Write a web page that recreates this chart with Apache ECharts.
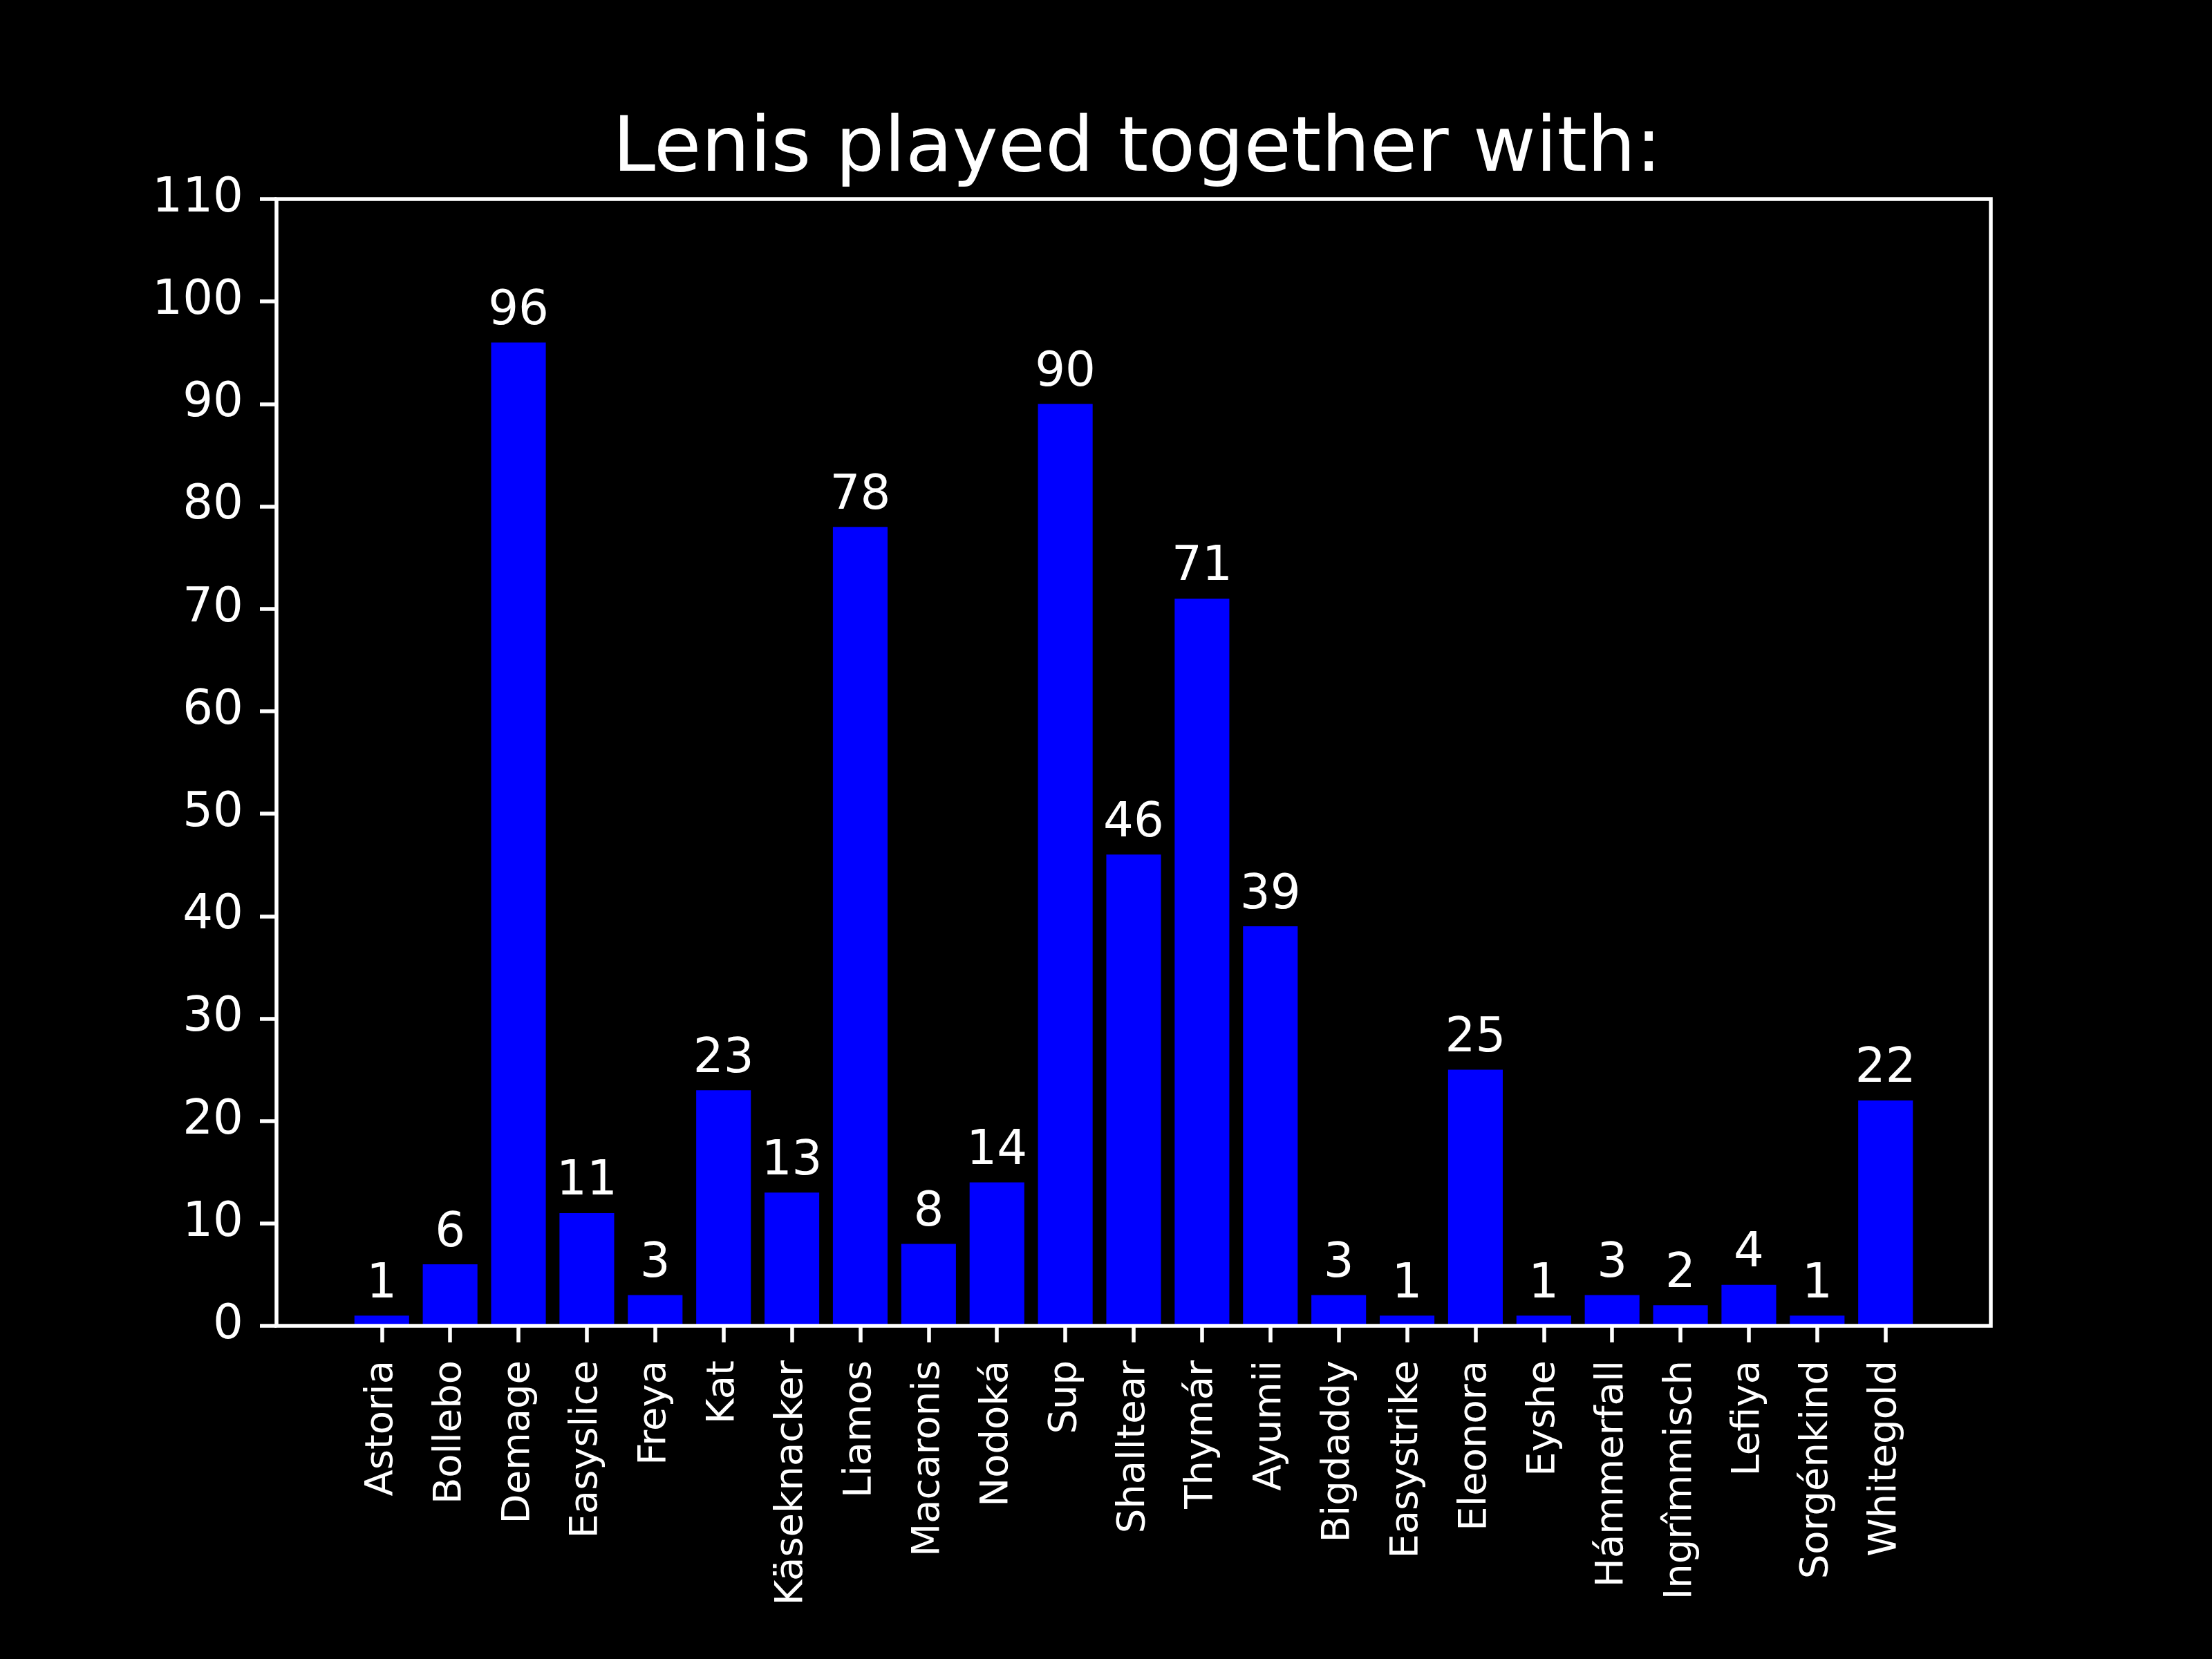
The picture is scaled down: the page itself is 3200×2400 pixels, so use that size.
<!DOCTYPE html>
<html>
<head>
<meta charset="utf-8">
<script src="https://cdn.jsdelivr.net/npm/echarts@6/dist/echarts.min.js"></script>
<style>
html,body{margin:0;padding:0;background:#000;}
#c{width:3200px;height:2400px;}
</style>
</head>
<body>
<div id="c"></div>
<script>
const categories = ["Astoria","Bollebo","Demage","Easyslice","Freya","Kat","Käseknacker","Liamos","Macaronis","Nodoká","Sup","Shalltear","Thymár","Ayumii","Bigdaddy","Easystrike","Eleonora","Eyshe","Hámmerfall","Ingrîmmisch","Lefiya","Sorgénkind","Whitegold"];
const values = [1,6,96,11,3,23,13,78,8,14,90,46,71,39,3,1,25,1,3,2,4,1,22];
const yMin = 0, yMax = 110, yStep = 10;
const titleText = "Lenis played together with:";

// matplotlib-like layout: axes box 400..2880 x, 288..1918 y; x margins 5% of data span
const boxL = 400, boxR = 2880, boxT = 288, boxB = 1918;
const n = categories.length;
const span = (n - 1) + 0.8;
const lo = -0.4 - 0.05 * span, hi = (n - 1) + 0.4 + 0.05 * span;
const unit = (boxR - boxL) / (hi - lo);
const innerL = boxL + (-0.5 - lo) * unit;
const innerW = n * unit;

const font = 'DejaVu Sans';
const chart = echarts.init(document.getElementById('c'), null, {renderer: 'canvas'});
chart.setOption({
  backgroundColor: '#000000',
  animation: false,
  title: {
    text: titleText,
    left: (boxL + boxR) / 2,
    textAlign: 'center',
    top: 158,
    textStyle: {color: '#ffffff', fontSize: 111, fontWeight: 'normal', fontFamily: font}
  },
  grid: [
    {left: boxL, top: boxT, width: boxR - boxL, height: boxB - boxT, show: true, z: 10, borderColor: '#ffffff', borderWidth: 5.5, backgroundColor: 'transparent'},
    {left: innerL, top: boxT, width: innerW, height: boxB - boxT}
  ],
  xAxis: [
    {gridIndex: 0, type: 'value', min: 0, max: 1, show: false},
    {
      gridIndex: 1, type: 'category', data: categories,
      axisLine: {show: false},
      axisTick: {show: true, alignWithLabel: true, length: 24, lineStyle: {color: '#ffffff', width: 5.5}},
      axisLabel: {rotate: 90, interval: 0, margin: 50, color: '#ffffff', fontSize: 56, fontFamily: font},
      splitLine: {show: false}
    }
  ],
  yAxis: [
    {
      gridIndex: 0, type: 'value', min: yMin, max: yMax, interval: yStep,
      axisLine: {show: false},
      axisTick: {show: true, length: 24, lineStyle: {color: '#ffffff', width: 5.5}},
      axisLabel: {margin: 48, color: '#ffffff', fontSize: 69, fontFamily: font, padding: [12, 0, 0, 0]},
      splitLine: {show: false}
    },
    {gridIndex: 1, type: 'value', min: yMin, max: yMax, show: false, splitLine: {show: false}}
  ],
  series: [{
    type: 'bar',
    xAxisIndex: 1, yAxisIndex: 1,
    data: values,
    barWidth: '80%',
    itemStyle: {color: '#0000ff'},
    label: {show: true, position: 'top', distance: 10, color: '#ffffff', fontSize: 69, fontFamily: font}
  }]
});
</script>
</body>
</html>
